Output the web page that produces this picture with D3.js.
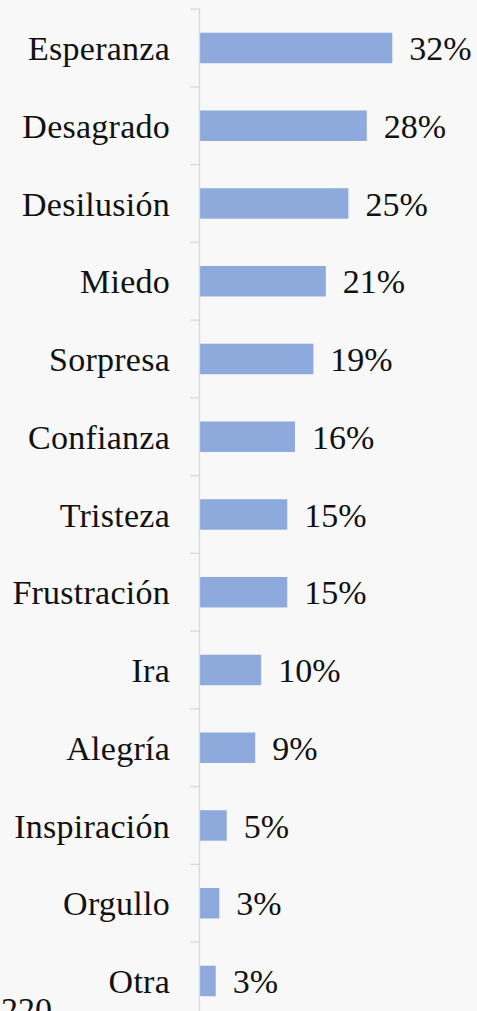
<!DOCTYPE html>
<html>
<head>
<meta charset="utf-8">
<script src="https://cdn.jsdelivr.net/npm/d3@7"></script>
<style>
  html, body { margin: 0; padding: 0; background: #f7f8f7; overflow: hidden; }
  svg { display: block; }
  .label { font-family: "Liberation Serif", serif; font-size: 34px; fill: #111; }
  .cat { letter-spacing: 0.25px; }
</style>
</head>
<body>
<div id="chart"></div>
<script>
'use strict';

// categories, top to bottom
const categories = ['Esperanza', 'Desagrado', 'Desilusión', 'Miedo', 'Sorpresa', 'Confianza',
	'Tristeza', 'Frustración', 'Ira', 'Alegría', 'Inspiración', 'Orgullo', 'Otra'];

// share of responses (%)
const values = [32.4, 28.1, 25.0, 21.2, 19.1, 16.0, 14.7, 14.7, 10.3, 9.3, 4.5, 3.25, 2.65];

const footnote = '220';

(function () {
	const width = 477, height = 1011;
	const axisX = 200;

	const svg = d3.select('#chart').append('svg')
		.attr('width', width)
		.attr('height', height);

	svg.append('rect')
		.attr('width', width)
		.attr('height', height)
		.attr('fill', '#f7f8f7');

	const data = categories.map((c, i) => ({ cat: c, value: values[i] }));

	const x = d3.scaleLinear()
		.domain([0, 32.4])
		.range([axisX, 392.3]);

	const top = 9.1, step = 77.75;
	const y = d3.scaleBand()
		.domain(categories)
		.range([top, top + step * categories.length])
		.paddingInner(0.608)
		.paddingOuter(0.304);

	// bars
	svg.selectAll('rect.bar')
		.data(data)
		.enter()
		.append('rect')
		.classed('bar', true)
		.attr('x', x(0))
		.attr('y', d => y(d.cat))
		.attr('width', d => x(d.value) - x(0))
		.attr('height', y.bandwidth())
		.attr('fill', '#8eaadc');

	// axis line + ticks at band boundaries
	const g = svg.append('g');
	g.append('line')
		.attr('x1', axisX - 0.5).attr('x2', axisX - 0.5)
		.attr('y1', top).attr('y2', height + 20)
		.attr('stroke', '#d9d9d9')
		.attr('stroke-width', 1.3);

	const boundaries = d3.range(categories.length + 1).map(i => top + i * y.step());
	g.selectAll('line.tick')
		.data(boundaries)
		.enter()
		.append('line')
		.classed('tick', true)
		.attr('x1', axisX - 10).attr('x2', axisX - 0.5)
		.attr('y1', d => d).attr('y2', d => d)
		.attr('stroke', '#d9d9d9')
		.attr('stroke-width', 1.3);

	// category labels
	svg.selectAll('text.cat')
		.data(data)
		.enter()
		.append('text')
		.attr('class', 'label cat')
		.attr('x', 170)
		.attr('y', d => y(d.cat) + y.bandwidth() / 2)
		.attr('dy', '0.36em')
		.style('text-anchor', 'end')
		.text(d => d.cat);

	// value labels
	svg.selectAll('text.val')
		.data(data)
		.enter()
		.append('text')
		.attr('class', 'label val')
		.attr('x', d => x(d.value) + 17)
		.attr('y', d => y(d.cat) + y.bandwidth() / 2)
		.attr('dy', '0.36em')
		.text(d => Math.round(d.value) + '%');

	// note cut off at the bottom edge, as in the source
	svg.append('text')
		.attr('class', 'label')
		.attr('x', 1)
		.attr('y', 1021)
		.text(footnote);
})();
</script>
</body>
</html>
